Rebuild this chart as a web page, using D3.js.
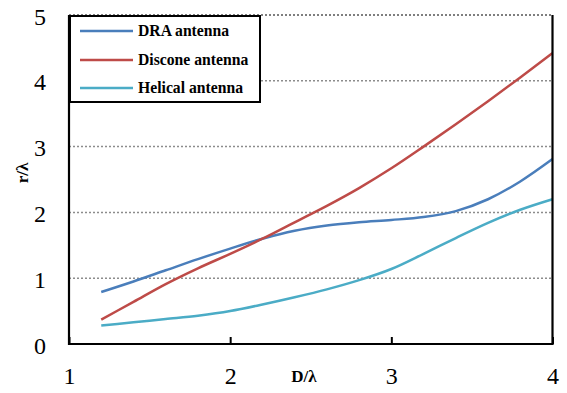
<!DOCTYPE html>
<html>
<head>
<meta charset="utf-8">
<script src="https://cdn.jsdelivr.net/npm/d3@7"></script>
<style>
  html, body { margin: 0; padding: 0; background: #fff; }
  svg { display: block; }
  svg text { font-family: "Liberation Serif", "DejaVu Serif", "Times New Roman", Times, serif; fill: #000; }
</style>
</head>
<body>
<svg id="chart" width="567" height="393"></svg>
<script>
// D/λ sample positions shared by all three curves
const dValues = [1.2, 1.4, 1.6, 1.8, 2.0, 2.2, 2.4, 2.6, 2.8, 3.0, 3.2, 3.4, 3.6, 3.8, 4.0];

// r/λ for each antenna type
const draValues     = [0.79, 0.95, 1.12, 1.29, 1.45, 1.60, 1.72, 1.80, 1.85, 1.885, 1.93, 2.02, 2.20, 2.47, 2.81];
const disconeValues = [0.37, 0.64, 0.91, 1.15, 1.37, 1.60, 1.85, 2.10, 2.37, 2.67, 3.00, 3.34, 3.69, 4.05, 4.42];
const helicalValues = [0.28, 0.33, 0.38, 0.43, 0.50, 0.60, 0.71, 0.83, 0.97, 1.14, 1.37, 1.61, 1.84, 2.04, 2.20];

const seriesNames  = ["DRA antenna", "Discone antenna", "Helical antenna"];
const seriesColors = ["#4a7ebb", "#be4b48", "#4bacc6"];

const xTicks = [1, 2, 3, 4];
const yTicks = [0, 1, 2, 3, 4, 5];

const serif = "'Liberation Serif', 'DejaVu Serif', 'Times New Roman', Times, serif";

const series = [draValues, disconeValues, helicalValues].map((vals, i) => ({
  name: seriesNames[i],
  color: seriesColors[i],
  points: dValues.map((d, j) => ({ x: d, y: vals[j] }))
}));

const svg = d3.select("#chart");
const plotLeft = 69, plotRight = 552.5, plotTop = 15, plotBottom = 344;

const x = d3.scaleLinear().domain([1, 4]).range([plotLeft, plotRight]);
const y = d3.scaleLinear().domain([0, 5]).range([plotBottom, plotTop]);

// horizontal dotted gridlines (including the top edge)
svg.append("g")
  .selectAll("line")
  .data(yTicks.filter(t => t > 0))
  .join("line")
  .attr("x1", plotLeft).attr("x2", plotRight)
  .attr("y1", d => y(d)).attr("y2", d => y(d))
  .attr("stroke", d => d === 5 ? "#555" : "#8c8c8c")
  .attr("stroke-width", 1.5)
  .attr("stroke-dasharray", "2,2");

// curves
const line = d3.line()
  .x(d => x(d.x))
  .y(d => y(d.y))
  .curve(d3.curveMonotoneX);

svg.append("g")
  .selectAll("path")
  .data(series)
  .join("path")
  .attr("d", d => line(d.points))
  .attr("fill", "none")
  .attr("stroke", d => d.color)
  .attr("stroke-width", 2.5)
  .attr("stroke-linecap", "butt");

// x axis: inner ticks, labels below
const xAxis = d3.axisBottom(x)
  .tickValues(xTicks)
  .tickSize(-7)
  .tickFormat(d3.format("d"));

const gx = svg.append("g")
  .attr("transform", `translate(0,${plotBottom})`)
  .call(xAxis)
  .attr("font-family", serif)
  .attr("font-size", 24);
gx.select(".domain").remove();
gx.selectAll(".tick line").attr("stroke", "#000").attr("stroke-width", 2);
gx.selectAll(".tick text")
  .attr("y", 0).attr("dy", 0)
  .attr("transform", "translate(0,40)");

// y axis: labels only
const yAxis = d3.axisLeft(y)
  .tickValues(yTicks)
  .tickSize(0)
  .tickFormat(d3.format("d"));

const gy = svg.append("g")
  .attr("transform", `translate(${plotLeft},0)`)
  .call(yAxis)
  .attr("font-family", serif)
  .attr("font-size", 24);
gy.select(".domain").remove();
gy.selectAll(".tick text")
  .attr("x", -23)
  .attr("dy", "0.38em");

// frame: left, bottom and right sides solid
svg.append("path")
  .attr("d", `M${plotLeft},${plotTop}V${plotBottom}H${plotRight}V${plotTop}`)
  .attr("fill", "none")
  .attr("stroke", "#000")
  .attr("stroke-width", 2.2);

// axis titles
svg.append("text")
  .attr("x", 304).attr("y", 382)
  .attr("text-anchor", "middle")
  .attr("font-family", serif)
  .attr("font-size", 17).attr("font-weight", "bold")
  .text("D/λ");

svg.append("text")
  .attr("transform", "translate(28,173) rotate(-90)")
  .attr("text-anchor", "middle")
  .attr("font-family", serif)
  .attr("font-size", 17).attr("font-weight", "bold")
  .text("r/λ");

// legend
const legend = svg.append("g");
legend.append("rect")
  .attr("x", 70).attr("y", 16)
  .attr("width", 190).attr("height", 86)
  .attr("fill", "#fff")
  .attr("stroke", "#000").attr("stroke-width", 2);

const legendRows = [31, 60, 88];
const items = legend.selectAll("g.item")
  .data(series)
  .join("g")
  .attr("class", "item")
  .attr("transform", (d, i) => `translate(0,${legendRows[i]})`);

items.append("line")
  .attr("x1", 80).attr("x2", 133)
  .attr("y1", 0).attr("y2", 0)
  .attr("stroke", d => d.color)
  .attr("stroke-width", 2.5);

items.append("text")
  .attr("x", 138).attr("y", 0).attr("dy", "0.33em")
  .attr("font-family", serif)
  .attr("font-size", 15.7).attr("font-weight", "bold")
  .text(d => d.name);
</script>
</body>
</html>
